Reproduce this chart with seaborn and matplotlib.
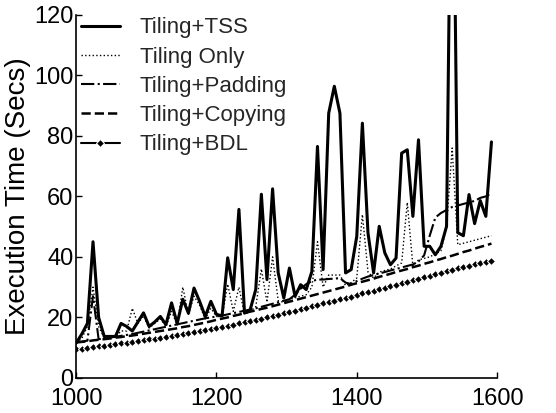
import matplotlib
matplotlib.use("Agg")
import matplotlib.pyplot as plt
import seaborn as sns
import numpy as np

sns.set_theme(style="ticks")
plt.rcParams['font.family'] = ['Liberation Sans', 'DejaVu Sans']

# matrix sizes 1000..1592 step 8
sizes = list(range(1000, 1600, 8))

tss = [11.5, 14.5, 18, 45, 20, 13.7, 13.7, 13.7, 18, 17,
       15.5, 18.5, 21.5, 17, 18.5, 20.3, 17.6, 24.8, 18, 26,
       21.4, 29.7, 25.3, 20.3, 25.3, 21, 20.5, 39.7, 29.2, 55.7,
       21.4, 22.5, 29.2, 60.7, 32.5, 62.5, 34.7, 26.4, 36.3, 27,
       30.8, 29.2, 35.2, 76.5, 35.8, 87.5, 96.4, 87.5, 34.7, 35.8,
       46.8, 84.2, 47.9, 34.7, 50.1, 41.3, 37.4, 39.6, 74.3, 75.4,
       53.4, 78.7, 43.5, 43.5, 40.7, 43.5, 50.1, 210, 48, 47,
       60.6, 51, 58.6, 53.4, 78]

tiling_only = [11.8, 13, 17, 30, 17, 13.2, 13.2, 13.5, 15.5, 15.5,
               23, 18, 20.5, 16.5, 18, 19.5, 17, 22, 17.5, 30,
               21, 27, 24, 19.5, 23, 20.3, 20.2, 31, 22, 30,
               21, 22, 23.5, 36, 25, 40, 25.5, 25, 26, 26.5,
               27, 27.5, 30, 45, 30, 34, 34, 34, 30.5, 31.5,
               33, 54, 35, 33, 35, 35.5, 36, 37, 38, 58,
               37, 39, 39.5, 40, 41, 42, 50, 76, 44, 44.5,
               45, 45.5, 46, 46.5, 47]

padding = [11.8, 12.0, 12.3, 27.0, 12.8, 13.0, 13.3, 13.6, 13.9, 14.2,
           14.5, 14.9, 15.3, 15.7, 16.1, 16.5, 16.9, 17.3, 17.7, 18.1,
           18.5, 18.9, 19.3, 19.7, 20.0, 20.3, 20.6, 21.0, 21.4, 21.8,
           22.2, 22.6, 23.0, 23.5, 24.0, 24.5, 25.0, 25.5, 26.0, 27.5,
           29.5, 31.0, 32.0, 32.5, 32.5, 32.7, 32.8, 33.0, 31.5, 31.0,
           32.0, 32.8, 33.5, 34.0, 34.5, 35.0, 35.5, 36.0, 36.5, 37.0,
           37.5, 38.5, 40.5, 47.0, 53.0, 54.5, 55.5, 56.5, 57.0, 57.5,
           58.0, 58.5, 59.5, 60.0, 61.0]

copying = [11.7, 11.9, 12.1, 12.4, 12.6, 12.8, 13.0, 13.3, 13.5, 13.8,
           14.0, 14.3, 14.6, 14.9, 15.2, 15.5, 15.8, 16.1, 16.4, 16.8,
           17.1, 17.5, 17.9, 18.3, 18.7, 19.2, 19.6, 20.0, 20.5, 20.9,
           21.4, 21.9, 22.3, 22.8, 23.2, 23.7, 24.2, 24.7, 25.2, 25.7,
           26.2, 26.7, 27.2, 27.7, 28.2, 28.7, 29.2, 29.7, 30.2, 30.8,
           31.3, 31.8, 32.3, 32.8, 33.4, 33.9, 34.4, 35.0, 35.5, 36.0,
           36.6, 37.1, 37.7, 38.2, 38.8, 39.3, 39.9, 40.4, 41.0, 41.6,
           42.1, 42.7, 43.3, 43.8, 44.4]

bdl = [9.5, 9.7, 9.9, 10.2, 10.4, 10.6, 10.9, 11.1, 11.4, 11.6,
       11.9, 12.1, 12.4, 12.7, 13.0, 13.3, 13.6, 13.9, 14.2, 14.5,
       14.8, 15.1, 15.4, 15.7, 16.1, 16.5, 16.8, 17.2, 17.6, 18.0,
       18.4, 18.8, 19.2, 19.6, 20.0, 20.4, 20.8, 21.3, 21.7, 22.2,
       22.7, 23.1, 23.6, 24.1, 24.6, 25.0, 25.5, 26.0, 26.4, 26.9,
       27.4, 27.9, 28.3, 28.8, 29.3, 29.8, 30.3, 30.8, 31.3, 31.8,
       32.3, 32.8, 33.3, 33.8, 34.3, 34.8, 35.3, 35.8, 36.3, 36.7,
       37.1, 37.5, 37.9, 38.2, 38.5]

labels = ["Tiling+TSS", "Tiling Only", "Tiling+Padding", "Tiling+Copying", "Tiling+BDL"]
x_ticks = [1000, 1200, 1400, 1600]
y_ticks = [0, 20, 40, 60, 80, 100, 120]

fig = plt.figure(figsize=(5.56, 4.13), dpi=100)
ax = fig.add_axes([0.137, 0.085, 0.757, 0.879])

styles = [
    dict(y=tss, linestyle='-', linewidth=2.2),
    dict(y=tiling_only, linestyle=':', linewidth=1.0),
    dict(y=padding, linestyle='-.', linewidth=1.5),
    dict(y=copying, linestyle='--', linewidth=1.8),
    dict(y=bdl, linestyle='-', linewidth=1.5, marker='D', markersize=3.8),
]
for lab, st in zip(labels, styles):
    yv = st.pop('y')
    sns.lineplot(x=sizes, y=yv, ax=ax, color='black', label=lab, **st)

ax.set_xlim(1000, 1600)
ax.set_ylim(0, 120)
ax.set_xticks(x_ticks)
ax.set_yticks(y_ticks)
ax.tick_params(direction='in', length=4, width=1, labelsize=17, colors='black')
ax.tick_params(axis='x', pad=7)
ax.tick_params(axis='y', pad=2)
for s in ['top', 'right']:
    ax.spines[s].set_visible(False)
for s in ['left', 'bottom']:
    ax.spines[s].set_linewidth(1.2)
    ax.spines[s].set_color('black')
ax.set_xlabel('')
ax.set_ylabel('Execution Time (Secs)', fontsize=20, labelpad=2, color='black')

leg = ax.legend(loc='upper left', bbox_to_anchor=(0.0, 1.005), frameon=False,
                fontsize=16, handlelength=1.75, handletextpad=0.9,
                labelspacing=0.37, borderaxespad=0.0, borderpad=0.2)

fig.savefig('out.png', dpi=100)
